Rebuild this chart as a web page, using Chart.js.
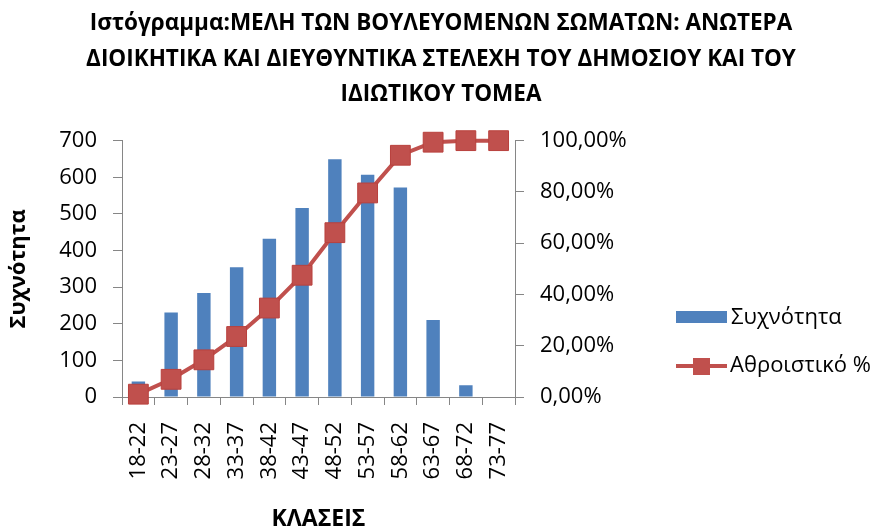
<!DOCTYPE html>
<html>
<head>
<meta charset="utf-8">
<script src="https://cdn.jsdelivr.net/npm/chart.js@4.4.0/dist/chart.umd.min.js"></script>
<style>
  body { margin: 0; background: #fff; }
  canvas { display: block; }
</style>
</head>
<body>
<canvas id="histChart" width="882" height="531"></canvas>
<script>
// data
const classes = ['18-22', '23-27', '28-32', '33-37', '38-42', '43-47', '48-52', '53-57', '58-62', '63-67', '68-72', '73-77'];
const frequency = [42, 231, 284, 354, 432, 516, 649, 607, 572, 210, 32, 0];
const cumulativePct = [1.1, 6.9, 14.5, 23.6, 34.7, 47.5, 64.1, 79.6, 94.3, 99.4, 100, 100];
const titleLines = [
    'Ιστόγραμμα:ΜΕΛΗ ΤΩΝ ΒΟΥΛΕΥΟΜΕΝΩΝ ΣΩΜΑΤΩΝ: ΑΝΩΤΕΡΑ',
    'ΔΙΟΙΚΗΤΙΚΑ ΚΑΙ ΔΙΕΥΘΥΝΤΙΚΑ ΣΤΕΛΕΧΗ ΤΟΥ ΔΗΜΟΣΙΟΥ ΚΑΙ ΤΟΥ',
    'ΙΔΙΩΤΙΚΟΥ ΤΟΜΕΑ'
];
const seriesNames = ['Συχνότητα', 'Αθροιστικό %'];

const FONT = '"Open Sans", "Noto Sans", sans-serif';
const BLUE = '#4F81BD';
const RED = '#C0504D';
const AXIS = '#868686';

// legend drawn at the right like the spreadsheet one (box + line with marker)
const sideLegend = {
    id: 'sideLegend',
    afterDraw(chart) {
        const ctx = chart.ctx;
        const x = chart.chartArea.right + 161;
        const y1 = 317, y2 = 366;
        ctx.save();
        ctx.fillStyle = BLUE;
        ctx.fillRect(x, y1 - 6, 51, 12);
        ctx.strokeStyle = RED;
        ctx.lineWidth = 4;
        ctx.beginPath();
        ctx.moveTo(x, y2);
        ctx.lineTo(x + 51, y2);
        ctx.stroke();
        ctx.fillStyle = RED;
        ctx.fillRect(x + 17, y2 - 8, 17, 17);
        ctx.fillStyle = '#000';
        ctx.font = '22px ' + FONT;
        ctx.textBaseline = 'middle';
        ctx.fillText(seriesNames[0], x + 55, y1 + 1);
        ctx.fillText(seriesNames[1], x + 54, y2);
        ctx.restore();
    }
};

const ctx = document.getElementById('histChart').getContext('2d');
const histChart = new Chart(ctx, {
    type: 'bar',
    data: {
        labels: classes,
        datasets: [{
            type: 'line',
            label: seriesNames[1],
            data: cumulativePct,
            yAxisID: 'y1',
            borderColor: RED,
            backgroundColor: RED,
            borderWidth: 4,
            pointStyle: 'rect',
            pointRadius: 14,
            pointBorderWidth: 1,
            pointBorderColor: '#B9403D',
            pointBackgroundColor: RED,
            tension: 0,
            clip: false,
            order: 0
        }, {
            type: 'bar',
            label: seriesNames[0],
            data: frequency,
            yAxisID: 'y',
            backgroundColor: BLUE,
            barPercentage: 0.41,
            categoryPercentage: 1,
            order: 1
        }]
    },
    options: {
        responsive: false,
        animation: false,
        layout: { padding: 0 },
        plugins: {
            legend: { display: false },
            tooltip: { enabled: false },
            title: {
                display: true,
                text: titleLines,
                color: '#000',
                font: { family: FONT, size: 22.5, weight: 'bold', lineHeight: 1.58 },
                padding: { top: 6, bottom: 28 }
            }
        },
        scales: {
            x: {
                afterFit: s => { s.height = 134; },
                grid: { drawOnChartArea: false, tickLength: 8, color: AXIS },
                border: { color: AXIS },
                ticks: {
                    color: '#000',
                    font: { family: FONT, size: 22 },
                    minRotation: 90,
                    maxRotation: 90,
                    padding: 17
                },
                title: {
                    display: true,
                    text: 'ΚΛΑΣΕΙΣ',
                    color: '#000',
                    font: { family: FONT, size: 23, weight: 'bold', lineHeight: 1 },
                    padding: { top: 0, bottom: 0 }
                }
            },
            y: {
                position: 'left',
                min: 0,
                max: 700,
                afterFit: s => { s.width = 122; },
                grid: { drawOnChartArea: false, tickLength: 9, color: AXIS },
                border: { color: AXIS },
                ticks: {
                    stepSize: 100,
                    color: '#000',
                    font: { family: FONT, size: 22 },
                    padding: 16
                },
                title: {
                    display: true,
                    text: 'Συχνότητα',
                    color: '#000',
                    font: { family: FONT, size: 22, weight: 'bold', lineHeight: 1.2 },
                    padding: { top: 6, bottom: 0 }
                }
            },
            y1: {
                position: 'right',
                min: 0,
                max: 100,
                afterFit: s => { s.width = 367; },
                grid: { drawOnChartArea: false, tickLength: 9, color: AXIS },
                border: { color: AXIS },
                ticks: {
                    stepSize: 20,
                    color: '#000',
                    font: { family: FONT, size: 22 },
                    padding: 16,
                    callback: v => v.toFixed(2).replace('.', ',') + '%'
                }
            }
        }
    },
    plugins: [sideLegend]
});
</script>
</body>
</html>
